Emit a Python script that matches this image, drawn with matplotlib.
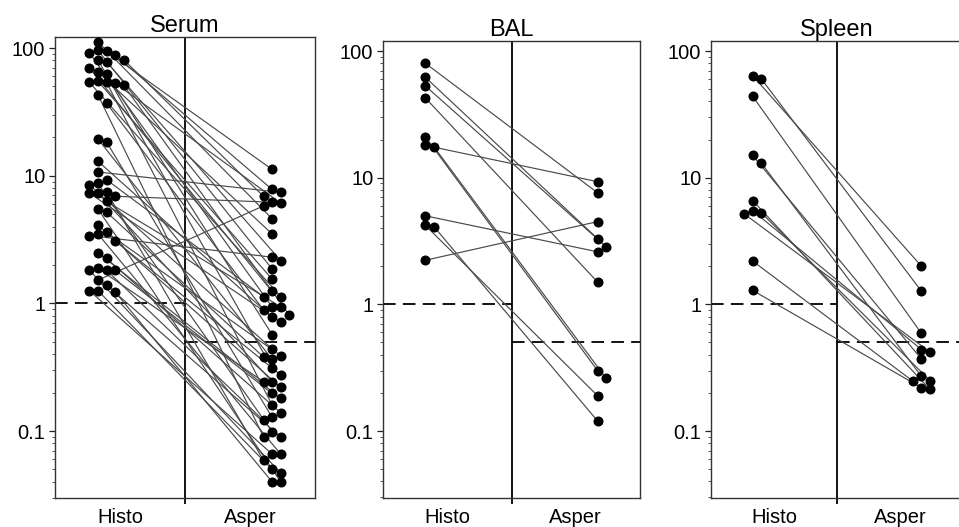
import numpy as np
import matplotlib
matplotlib.use('Agg')
import matplotlib.pyplot as plt
from matplotlib.ticker import FixedLocator, LogLocator, NullFormatter, FuncFormatter

plt.rcParams['font.family'] = ['Liberation Sans', 'DejaVu Sans']

panel_names = ['Serum', 'BAL', 'Spleen']
group_names = ['Histo', 'Asper']
histo_cutoff = 1.0
asper_cutoff = 0.5

# paired values: i-th histo value belongs to the i-th asper value
serum_histo = [112, 96, 94, 92, 88, 81, 81, 78, 70, 65, 63, 55, 54, 54, 53, 51, 43, 37,
               19.4, 18.4, 13, 10.7, 9.3, 8.7, 8.5, 7.5, 7.3, 7.3, 6.9, 6.3, 5.5, 5.2, 4.1,
               3.6, 3.5, 3.4, 3.1, 2.5, 2.25, 1.88, 1.82, 1.82, 1.82, 1.52, 1.39, 1.26, 1.26, 1.23]
serum_asper = [4.6, 1.86, 11.2, 0.94, 7.8, 6.9, 0.31, 2.16, 1.24, 3.5, 0.57, 1.55, 0.16, 1.13,
               6.1, 0.81, 0.090, 0.89,
               0.365, 0.128, 0.78, 7.4, 1.13, 0.099, 0.44, 0.059, 0.71, 0.244, 6.2, 0.94, 0.040,
               0.38, 0.22, 0.39, 0.066, 2.3, 0.275, 0.18, 0.139, 0.244, 0.197, 0.047, 0.121,
               5.8, 0.090, 0.066, 0.050, 0.040]

bal_histo = [80, 62, 53, 42.6, 21, 17.5, 18, 5.0, 4.1, 4.2, 2.23]
bal_asper = [7.6, 3.3, 2.85, 1.5, 0.30, 0.26, 9.3, 2.6, 0.12, 0.19, 4.5]

spleen_histo = [64, 60.5, 44, 15, 13.1, 6.6, 5.5, 5.3, 5.2, 2.2, 1.29]
spleen_asper = [2.0, 1.27, 0.59, 0.37, 0.27, 0.213, 0.44, 0.25, 0.42, 0.248, 0.22]

data = {
    'Serum': (serum_histo, serum_asper),
    'BAL': (bal_histo, bal_asper),
    'Spleen': (spleen_histo, spleen_asper),
}

W, H = 959, 527
fig = plt.figure(figsize=(W / 100, H / 100), dpi=100)

# axes boxes in pixels: left, right, top, bottom
boxes = {
    'Serum': (55, 315, 37, 498),
    'BAL': (383, 640, 41, 498),
    'Spleen': (711, 963, 41, 498),
}
ylims = {
    'Serum': (0.0299, 122),
    'BAL': (0.0296, 120),
    'Spleen': (0.0296, 120),
}


def swarm(values, center, ppx, ppd, dot=8.6):
    # simple beeswarm: put each dot in the first free slot next to the column
    placed = []
    xs = np.empty(len(values))
    order = np.argsort(values)[::-1]
    slots = [0, 1, -1, 2, 3, -2, 4, -3]
    for i in order:
        yp = np.log10(values[i]) * ppd
        for s in slots:
            xp = center * ppx + s * dot
            if all((xp - a) ** 2 + (yp - b) ** 2 >= (dot * 0.97) ** 2 for a, b in placed):
                break
        placed.append((xp, yp))
        xs[i] = xp / ppx
    return xs


for name in panel_names:
    l, r, t, b = boxes[name]
    ax = fig.add_axes([l / W, (H - b) / H, (r - l) / W, (b - t) / H])
    ax.set_yscale('log')
    lo, hi = ylims[name]
    ax.set_ylim(lo, hi)
    ax.set_xlim(0, 2)

    ppx = (r - l) / 2.0
    ppd = (b - t) / (np.log10(hi) - np.log10(lo))

    histo, asper = data[name]
    histo = np.array(histo, float)
    asper = np.array(asper, float)
    xh = swarm(histo, 0.33, ppx, ppd)
    xa = swarm(asper, 1.67, ppx, ppd)

    for i in range(len(histo)):
        ax.plot([xh[i], xa[i]], [histo[i], asper[i]], color='#4a4a4a', lw=0.85, zorder=2)
    ax.plot(xh, histo, 'o', color='black', ms=6.2, zorder=3)
    ax.plot(xa, asper, 'o', color='black', ms=6.2, zorder=3)

    ax.axvline(1, color='black', lw=1.3, zorder=1)
    ax.plot([0, 1], [histo_cutoff, histo_cutoff], color='black', lw=1.3,
            dashes=(7, 4), zorder=1)
    ax.plot([1, 2], [asper_cutoff, asper_cutoff], color='black', lw=1.3,
            dashes=(7, 4), zorder=1)

    ax.yaxis.set_major_locator(FixedLocator([0.1, 1, 10, 100]))
    ax.yaxis.set_major_formatter(FuncFormatter(lambda v, p: f'{v:g}'))
    ax.yaxis.set_minor_locator(LogLocator(base=10, subs=np.arange(2, 10)))
    ax.yaxis.set_minor_formatter(NullFormatter())
    ax.tick_params(axis='y', which='major', length=4, width=0.9, labelsize=14.5, pad=3,
                   colors='#222222', labelcolor='black')
    ax.tick_params(axis='y', which='minor', length=2, width=0.7, colors='#555555')

    ax.set_xticks([1])
    ax.set_xticklabels([''])
    ax.set_xticks([0.5, 1.5], minor=True)
    ax.set_xticklabels(group_names, minor=True)
    ax.tick_params(axis='x', which='major', length=4, width=1.3, colors='black')
    ax.tick_params(axis='x', which='minor', length=0, labelsize=14.5, pad=7)

    for sp in ax.spines.values():
        sp.set_linewidth(1.0)
        sp.set_color('#333333')

    ax.set_title(name, fontsize=17, pad=3)

fig.savefig('out.png', dpi=100)
